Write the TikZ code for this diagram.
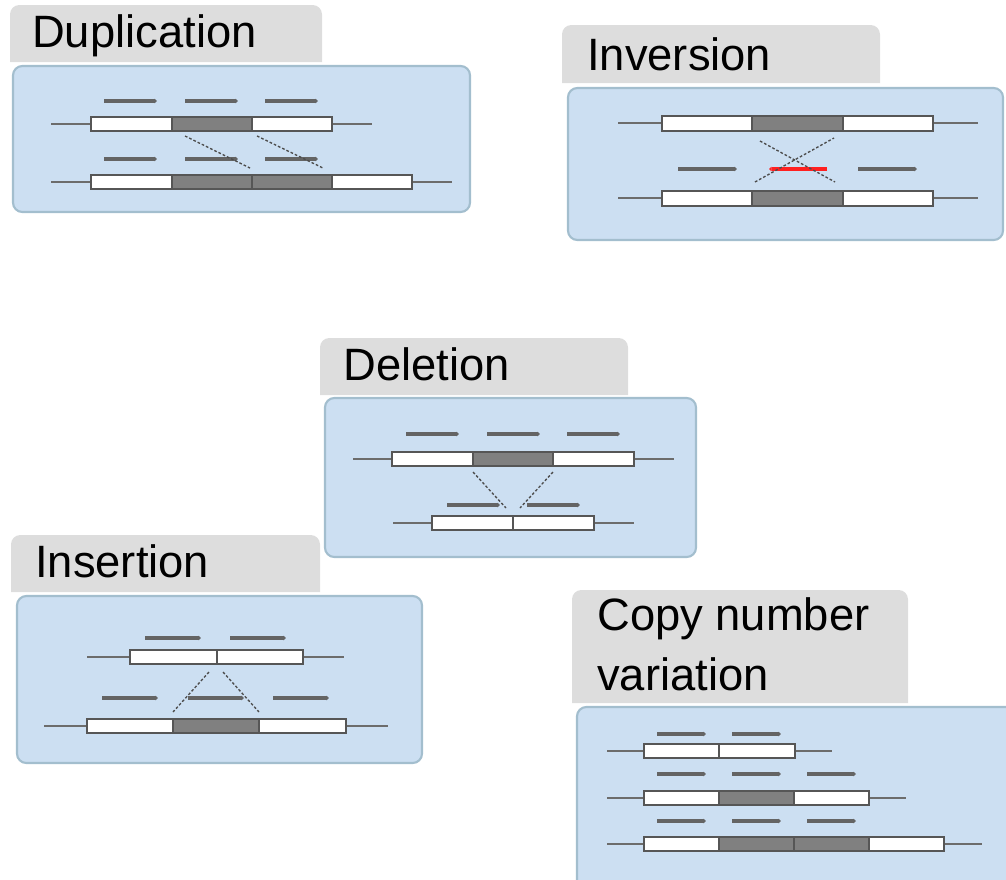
\documentclass[tikz,border=0pt]{standalone}
\usepackage{fontspec}
\setmainfont{Liberation Sans}
\usepackage{xcolor}
\definecolor{panelblue}{RGB}{204,223,242}
\definecolor{paneledge}{RGB}{163,190,206}
\definecolor{tabgrey}{RGB}{221,221,221}
\definecolor{seggrey}{RGB}{128,128,128}
\definecolor{wiregrey}{RGB}{108,108,108}
\definecolor{readgrey}{RGB}{100,100,100}
\definecolor{breakred}{RGB}{255,32,32}
\usetikzlibrary{arrows.meta}

\begin{document}
\begin{tikzpicture}[
  x=0.75pt, y=-0.75pt,
  panel/.style={fill=panelblue, draw=paneledge, line width=1.6pt, rounded corners=7pt},
  tab/.style={fill=tabgrey},
  title/.style={anchor=base west, inner sep=0pt, font=\fontsize{34}{40}\selectfont},
  wire/.style={draw=wiregrey, line width=1.2pt},
  seg/.style={draw=wiregrey!80!black, line width=0.8pt, fill=white},
  dseg/.style={seg, fill=seggrey},
  readarr/.style={draw=readgrey, line width=2.8pt, -{Triangle[length=2pt, width=3.4pt]}},
  brk/.style={draw=wiregrey!70!black, line width=1pt, dash pattern=on 2pt off 1.5pt}
]
\useasboundingbox (0,0) rectangle (1006,879);

% Duplication
\fill[tab] (10,62) [rounded corners=7pt] -- (10,5) -- (322,5) [sharp corners] -- (322,62) -- cycle;
\node[title] (dupT) at (32,47) {Duplication};
\draw[panel] (13,66) rectangle (470,212);
\draw[wire] (51,124) -- (372,124);
\draw[seg] (91,117) rectangle (172,131);
\draw[dseg] (172,117) rectangle (252,131);
\draw[seg] (252,117) rectangle (332,131);
\draw[wire] (51,182) -- (452,182);
\draw[seg] (91,175) rectangle (172,189);
\draw[dseg] (172,175) rectangle (252,189);
\draw[dseg] (252,175) rectangle (332,189);
\draw[seg] (332,175) rectangle (412,189);
\foreach \x in {104,185,265} {
  \draw[readarr] (\x,101) -- ++(53,0);
  \draw[readarr] (\x,159) -- ++(53,0);
}
\coordinate (dupA) at (185,136); \coordinate (dupB) at (250,168);
\coordinate (dupC) at (257,136); \coordinate (dupD) at (323,168);
\draw[brk] (dupA) -- (dupB);
\draw[brk] (dupC) -- (dupD);

% Inversion
\fill[tab] (562,83) [rounded corners=7pt] -- (562,25) -- (880,25) [sharp corners] -- (880,83) -- cycle;
\node[title] (invT) at (587,70) {Inversion};
\draw[panel] (568,88) rectangle (1003,240);
\draw[wire] (618,123) -- (978,123);
\draw[seg] (662,116) rectangle (752,131);
\draw[dseg] (752,116) rectangle (843,131);
\draw[seg] (843,116) rectangle (933,131);
\draw[wire] (618,198) -- (978,198);
\draw[seg] (662,191) rectangle (752,206);
\draw[dseg] (752,191) rectangle (843,206);
\draw[seg] (843,191) rectangle (933,206);
\draw[readarr] (678,169) -- (737,169);
\draw[readarr] (858,169) -- (917,169);
\draw[readarr, draw=breakred] (827,169) -- (769,169);
\coordinate (invA) at (760,141); \coordinate (invB) at (835,182);
\coordinate (invC) at (755,182); \coordinate (invD) at (834,138);
\draw[brk] (invA) -- (invB);
\draw[brk] (invC) -- (invD);

% Deletion
\fill[tab] (320,395) [rounded corners=7pt] -- (320,338) -- (628,338) [sharp corners] -- (628,395) -- cycle;
\node[title] (delT) at (343,380) {Deletion};
\draw[panel] (325,398) rectangle (696,557);
\draw[wire] (353,459) -- (674,459);
\draw[seg] (392,452) rectangle (473,466);
\draw[dseg] (473,452) rectangle (553,466);
\draw[seg] (553,452) rectangle (634,466);
\draw[wire] (393,523) -- (634,523);
\draw[seg] (432,516) rectangle (513,530);
\draw[seg] (513,516) rectangle (594,530);
\foreach \x in {406,487,567}
  \draw[readarr] (\x,434) -- ++(53,0);
\foreach \x in {447,527}
  \draw[readarr] (\x,505) -- ++(53,0);
\coordinate (delA) at (473,472); \coordinate (delB) at (506,508);
\coordinate (delC) at (553,472); \coordinate (delD) at (520,508);
\draw[brk] (delA) -- (delB);
\draw[brk] (delC) -- (delD);

% Insertion
\fill[tab] (11,592) [rounded corners=7pt] -- (11,535) -- (320,535) [sharp corners] -- (320,592) -- cycle;
\node[title] (insT) at (35,577) {Insertion};
\draw[panel] (17,596) rectangle (422,763);
\draw[wire] (87,657) -- (344,657);
\draw[seg] (130,650) rectangle (217,664);
\draw[seg] (217,650) rectangle (303,664);
\draw[wire] (44,726) -- (388,726);
\draw[seg] (87,719) rectangle (173,733);
\draw[dseg] (173,719) rectangle (259,733);
\draw[seg] (259,719) rectangle (346,733);
\foreach \x in {145,230}
  \draw[readarr] (\x,638) -- ++(56,0);
\foreach \x in {102,188,273}
  \draw[readarr] (\x,698) -- ++(56,0);
\coordinate (insA) at (209,672); \coordinate (insB) at (173,712);
\coordinate (insC) at (223,672); \coordinate (insD) at (259,712);
\draw[brk] (insA) -- (insB);
\draw[brk] (insC) -- (insD);

% Copy number variation
\fill[tab] (572,703) [rounded corners=7pt] -- (572,590) -- (908,590) [sharp corners] -- (908,703) -- cycle;
\node[title] (cnvT) at (597,630) {Copy number};
\node[title] (cnvU) at (597,690) {variation};
\draw[panel] (577,707) rectangle (1015,890);
\draw[wire] (607,751) -- (832,751);
\draw[seg] (644,744) rectangle (719,758);
\draw[seg] (719,744) rectangle (795,758);
\draw[wire] (607,798) -- (906,798);
\draw[seg] (644,791) rectangle (719,805);
\draw[dseg] (719,791) rectangle (794,805);
\draw[seg] (794,791) rectangle (869,805);
\draw[wire] (607,844) -- (982,844);
\draw[seg] (644,837) rectangle (719,851);
\draw[dseg] (719,837) rectangle (794,851);
\draw[dseg] (794,837) rectangle (869,851);
\draw[seg] (869,837) rectangle (944,851);
\foreach \x in {657,732}
  \draw[readarr] (\x,734) -- ++(49,0);
\foreach \x in {657,732,807} {
  \draw[readarr] (\x,774) -- ++(49,0);
  \draw[readarr] (\x,821) -- ++(49,0);
}
\end{tikzpicture}
\end{document}
